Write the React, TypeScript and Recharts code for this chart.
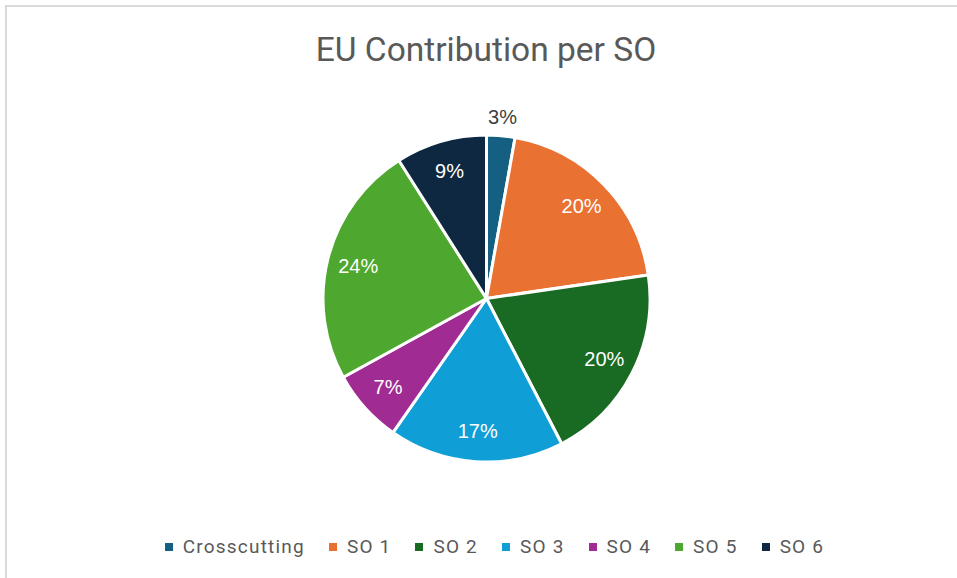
import React from 'react';
import { PieChart, Pie, Cell, Legend } from 'recharts';

// EU contribution share per strategic objective
const categories = ['Crosscutting', 'SO 1', 'SO 2', 'SO 3', 'SO 4', 'SO 5', 'SO 6'];
const shares = [2.8, 19.9, 19.7, 17.3, 7.3, 24.0, 9.0];
const colors = ['#156082', '#E97132', '#196B24', '#0F9ED5', '#A02B93', '#4EA72E', '#0E2841'];

const data = categories.map((name, i) => ({ name, value: shares[i] }));

const RAD = Math.PI / 180;

const renderLabel = (props: any) => {
  const { cx, cy, midAngle, outerRadius, percent } = props;
  const small = percent < 0.05;
  const r = small ? outerRadius + 19 : outerRadius * 0.81;
  const x = cx + r * Math.cos(-midAngle * RAD);
  const y = cy + r * Math.sin(-midAngle * RAD);
  return (
    <text
      x={x}
      y={y}
      fill={small ? '#404040' : '#ffffff'}
      textAnchor="middle"
      dominantBaseline="central"
      fontFamily="'Liberation Sans', Arial, sans-serif"
      fontSize={20}
    >
      {`${Math.round(percent * 100)}%`}
    </text>
  );
};

const renderLegend = (props: any) => {
  const { payload } = props;
  return (
    <div style={{ display: 'flex', justifyContent: 'center', alignItems: 'center' }}>
      {(payload || []).map((entry: any, i: number) => (
        <div key={i} style={{ display: 'flex', alignItems: 'center', marginRight: i === payload.length - 1 ? 0 : 24 }}>
          <span style={{ width: 8, height: 8, background: entry.color, display: 'inline-block', marginRight: 10 }} />
          <span style={{ fontFamily: 'Roboto, sans-serif', fontSize: 19, letterSpacing: 1.2, color: '#595959' }}>{entry.value}</span>
        </div>
      ))}
    </div>
  );
};

export default function App() {
  return (
    <div style={{ position: 'absolute', left: 0, top: 0, width: 957, height: 578, background: '#fff', overflow: 'hidden' }}>
      {/* chart frame, only the top/left edges show */}
      <div style={{ position: 'absolute', left: 5, top: 5, width: 1000, height: 1000, border: '2px solid #d9d9d9', boxSizing: 'border-box' }} />
      <div
        style={{
          position: 'absolute',
          left: 0,
          width: 972,
          top: 30,
          textAlign: 'center',
          fontFamily: 'Roboto, sans-serif',
          fontSize: 33.5,
          color: '#595959',
          lineHeight: '40px',
        }}
      >
        EU Contribution per SO
      </div>
      <div style={{ position: 'absolute', left: 0, top: 0 }}>
        <PieChart width={957} height={578} margin={{ top: 0, right: 0, bottom: 0, left: 0 }}>
          <Pie
            data={data}
            dataKey="value"
            nameKey="name"
            cx={486.5}
            cy={298.5}
            outerRadius={163.5}
            startAngle={90}
            endAngle={-270}
            stroke="#ffffff"
            strokeWidth={3}
            label={renderLabel}
            labelLine={false}
            isAnimationActive={false}
          >
            {data.map((d, i) => (
              <Cell key={d.name} fill={colors[i]} />
            ))}
          </Pie>
          <Legend
            content={renderLegend}
            verticalAlign="bottom"
            wrapperStyle={{ left: 16, width: 957, bottom: 20 }}
          />
        </PieChart>
      </div>
    </div>
  );
}
